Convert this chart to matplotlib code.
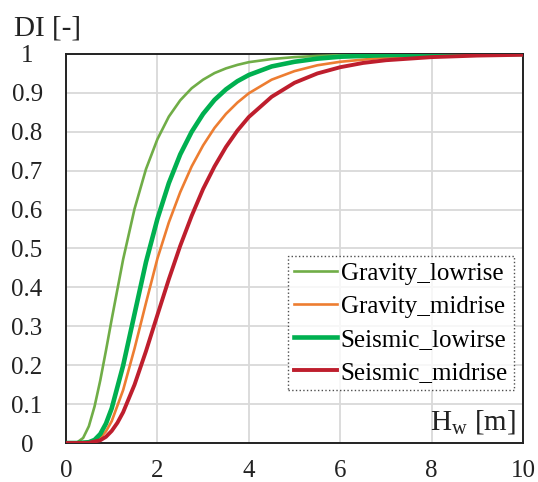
import matplotlib
matplotlib.use("Agg")
import matplotlib.pyplot as plt

plt.rcParams['font.family'] = ['Liberation Serif', 'DejaVu Serif']
plt.rcParams['mathtext.fontset'] = 'custom'
plt.rcParams['mathtext.rm'] = 'Liberation Serif'

# values (Hw [m] vs DI [-])
grav_low_hw = [0, 0.125, 0.25, 0.375, 0.5, 0.625, 0.75, 0.875, 1.0, 1.25, 1.5, 1.75, 2.0, 2.25, 2.5, 2.75,
               3.0, 3.25, 3.5, 3.75, 4.0, 4.5, 5.0, 5.5, 6.0, 7.0, 8.0, 9.0, 10.0]
grav_low_di = [0, 0.0, 0.002, 0.013, 0.043, 0.094, 0.161, 0.238, 0.318, 0.472, 0.602, 0.704, 0.781, 0.839, 0.881, 0.912,
               0.934, 0.951, 0.963, 0.972, 0.979, 0.987, 0.992, 0.995, 0.997, 0.999, 0.9995, 0.9998, 1.0]

grav_mid_hw = [0, 0.25, 0.5, 0.625, 0.75, 0.875, 1.0, 1.25, 1.5, 1.75, 2.0, 2.25, 2.5, 2.75,
               3.0, 3.25, 3.5, 3.75, 4.0, 4.5, 5.0, 5.5, 6.0, 7.0, 8.0, 9.0, 10.0]
grav_mid_di = [0, 0.0, 0.001, 0.004, 0.013, 0.030, 0.056, 0.136, 0.243, 0.360, 0.474, 0.567, 0.645, 0.711,
               0.765, 0.810, 0.846, 0.875, 0.899, 0.934, 0.956, 0.971, 0.980, 0.991, 0.9955, 0.9977, 0.999]

seis_low_hw = [0, 0.25, 0.5, 0.625, 0.75, 0.875, 1.0, 1.25, 1.5, 1.75, 2.0, 2.25, 2.5, 2.75,
               3.0, 3.25, 3.5, 3.75, 4.0, 4.5, 5.0, 5.5, 6.0, 7.0, 8.0, 9.0, 10.0]
seis_low_di = [0, 0.0, 0.002, 0.008, 0.023, 0.050, 0.089, 0.199, 0.332, 0.465, 0.576, 0.668, 0.742, 0.800,
               0.846, 0.882, 0.909, 0.930, 0.946, 0.968, 0.980, 0.988, 0.993, 0.997, 0.9988, 0.9995, 1.0]

seis_mid_hw = [0, 0.25, 0.5, 0.75, 0.875, 1.0, 1.125, 1.25, 1.5, 1.75, 2.0, 2.25, 2.5, 2.75,
               3.0, 3.25, 3.5, 3.75, 4.0, 4.5, 5.0, 5.5, 6.0, 6.5, 7.0, 8.0, 9.0, 10.0]
seis_mid_di = [0, 0.0, 0.0005, 0.007, 0.016, 0.031, 0.052, 0.079, 0.150, 0.236, 0.329, 0.421, 0.507, 0.584,
               0.653, 0.711, 0.761, 0.803, 0.838, 0.890, 0.926, 0.950, 0.966, 0.977, 0.984, 0.992, 0.996, 0.998]

x_ticks = [0, 2, 4, 6, 8, 10]
y_ticks = [0, 0.1, 0.2, 0.3, 0.4, 0.5, 0.6, 0.7, 0.8, 0.9, 1]
y_tick_labels = ['0', '0.1', '0.2', '0.3', '0.4', '0.5', '0.6', '0.7', '0.8', '0.9', '1']

fig = plt.figure(figsize=(5.38, 4.82), dpi=100)
ax = fig.add_axes([66 / 538, 39 / 482, 457 / 538, 389 / 482])

ax.plot(grav_low_hw, grav_low_di, color='#70AD47', lw=1.9, label='Gravity_lowrise', zorder=3)
ax.plot(grav_mid_hw, grav_mid_di, color='#ED7D31', lw=1.9, label='Gravity_midrise', zorder=3)
ax.plot(seis_low_hw, seis_low_di, color='#00B050', lw=3.3, label='Seismic_lowirse', zorder=3)
ax.plot(seis_mid_hw, seis_mid_di, color='#BE1E2D', lw=2.8, label='Seismic_midrise', zorder=3)

ax.set_xlim(0, 10)
ax.set_ylim(0, 1)
ax.set_xticks(x_ticks)
ax.set_xticklabels([str(t) for t in x_ticks])
ax.set_yticks(y_ticks)
ax.set_yticklabels(y_tick_labels)
ax.tick_params(axis='both', length=0, labelsize=18, colors='#222222')
ax.tick_params(axis='x', pad=12)
ax.tick_params(axis='y', pad=28)
for lab in ax.get_yticklabels():
    lab.set_horizontalalignment('center')

ax.grid(True, color='#d9d9d9', linewidth=1.3)
ax.set_axisbelow(True)
for sp in ax.spines.values():
    sp.set_color('#222222')
    sp.set_linewidth(1.4)

leg = ax.legend(loc='lower right', bbox_to_anchor=(448 / 457, 53 / 389),
                borderaxespad=0, fontsize=18, frameon=True, fancybox=False,
                handlelength=1.7, handletextpad=0.16, labelspacing=0.42,
                borderpad=0.25)
leg.get_frame().set_edgecolor('#222222')
leg.get_frame().set_linestyle(':')
leg.get_frame().set_linewidth(1.0)
leg.set_zorder(5)

ax.text(0.985, 0.033, r'H$_{\mathrm{w}}$ [m]', transform=ax.transAxes,
        ha='right', va='baseline', fontsize=21, color='#222222', zorder=6)

fig.text(14 / 538, (482 - 35) / 482, 'DI [-]', ha='left', va='baseline',
         fontsize=21, color='#222222')

fig.savefig('out.png', dpi=100)
